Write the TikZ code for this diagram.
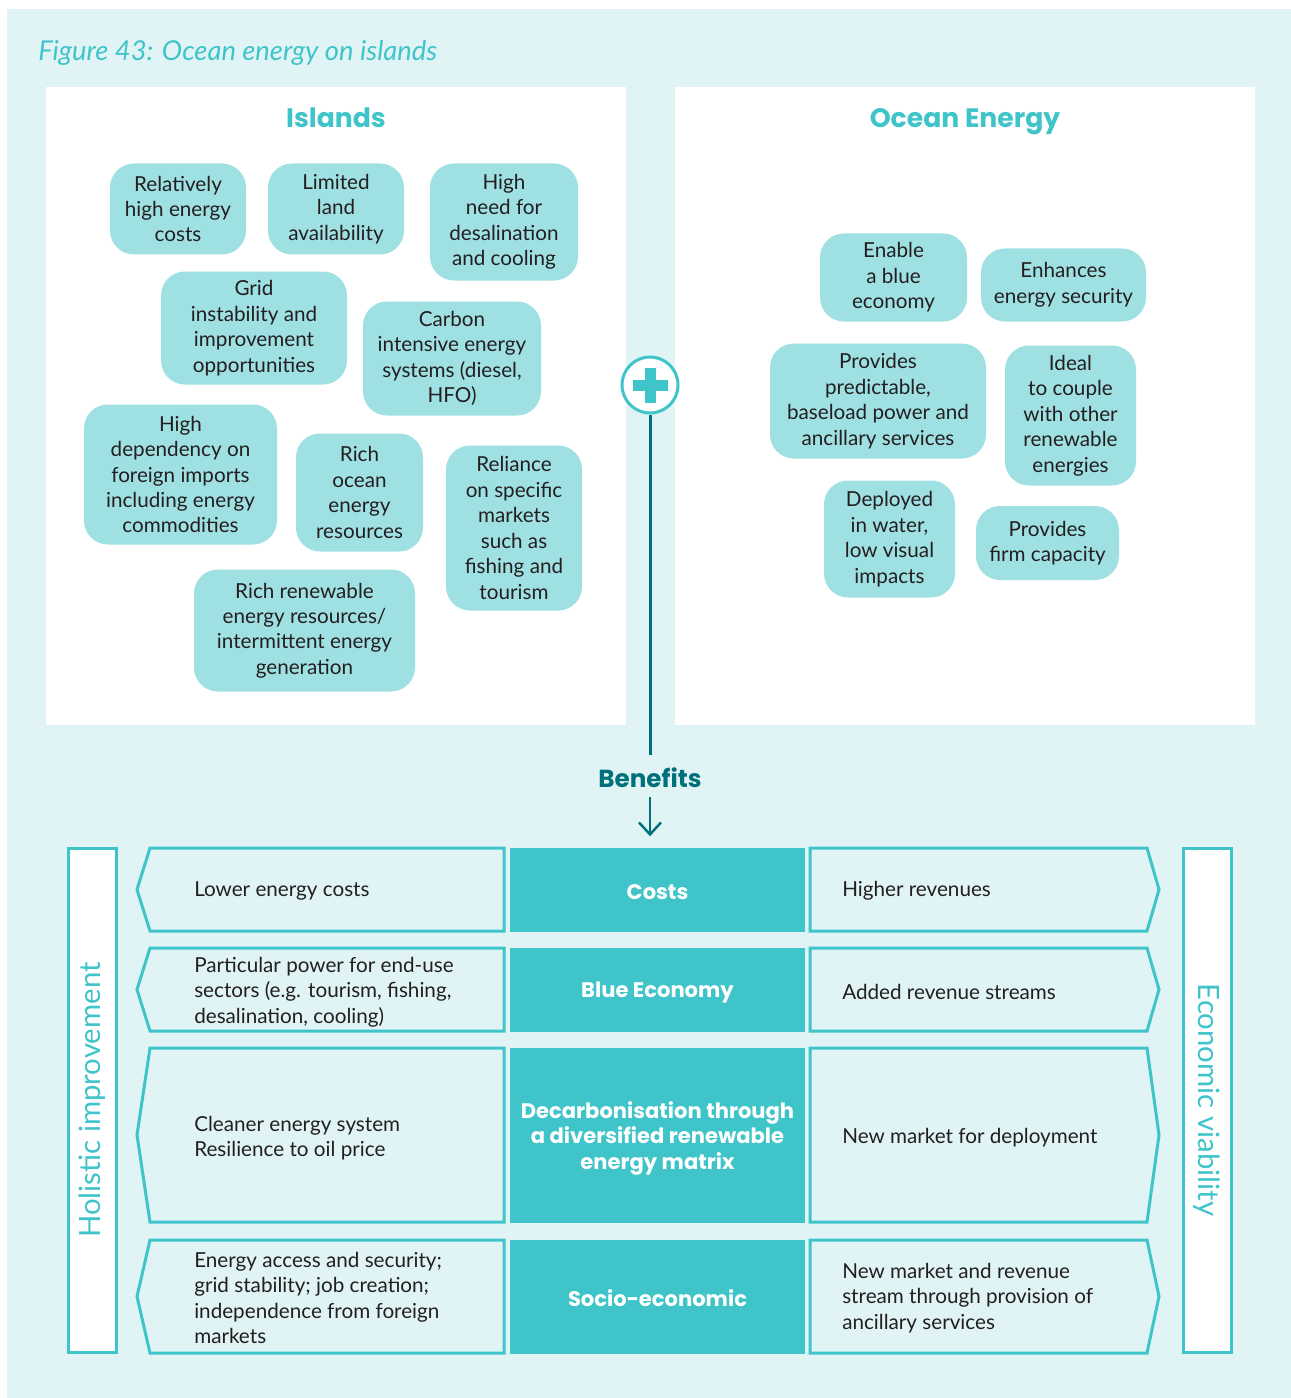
\documentclass[tikz,border=0pt]{standalone}
\usepackage{fontspec}
\setmainfont{Lato}
\newfontfamily\headfont{Poppins}
\usetikzlibrary{arrows.meta}
\definecolor{panelc}{HTML}{E0F4F6}
\definecolor{pillc}{HTML}{9FE1E3}
\definecolor{tealc}{HTML}{3FC4C9}
\definecolor{darkc}{HTML}{00707A}
\definecolor{inkc}{HTML}{231F20}
\newcommand{\bodyfont}{\fontsize{15.5}{19.1}\selectfont}
\tikzset{
  pillbox/.style 2 args={fill=pillc, rounded corners=18pt, minimum width=#1*0.75pt, minimum height=#2*0.75pt, align=center, inner sep=0pt, text=inkc, font=\bodyfont},
  heading/.style={anchor=base, inner sep=0pt, text=tealc, font=\headfont\bfseries\fontsize{20}{24}\selectfont},
  rowline/.style={draw=tealc, line width=2.25pt, fill=panelc, line join=miter},
  centerbox/.style={fill=tealc, minimum width=295*0.75pt, minimum height=#1*0.75pt, inner sep=0pt},
  centertext/.style={inner sep=0pt, align=center, text=white, font=\headfont\bfseries\fontsize{15.8}{19.1}\selectfont},
  rowtext/.style={anchor=west, align=left, inner sep=0pt, text=inkc, font=\bodyfont},
  sidebox/.style={draw=tealc, fill=white, line width=2.25pt},
  sidetext/.style={inner sep=0pt, text=tealc, font=\fontsize{22}{24}\selectfont},
}
\begin{document}
\begin{tikzpicture}[x=0.75pt,y=-0.75pt]
\useasboundingbox (0,0) rectangle (1291,1398);
\fill[white] (0,0) rectangle (1291,1398);
\fill[panelc] (7,9) rectangle (1291,1398);
\fill[white] (46,87) rectangle (626,725);
\fill[white] (675,87) rectangle (1255,725);

% title
\node[anchor=base west, inner sep=0pt, text=tealc, font=\itshape\fontsize{20.5}{22}\selectfont] (title) at (38,61) {Figure 43: Ocean energy on islands};

% headings
\node[heading] (islands) at (336,128) {Islands};
\node[heading] (ocean) at (965,128) {Ocean Energy};

% island pills
\node[pillbox={136}{91}] (i1) at (178,209) {Relatively\\high energy\\costs};
\node[pillbox={136}{91}] (i2) at (336,209) {Limited\\land\\availability};
\node[pillbox={148}{117}] (i3) at (504,222) {High\\need for\\desalination\\and cooling};
\node[pillbox={186}{113}] (i4) at (254,328) {Grid\\instability and\\improvement\\opportunities};
\node[pillbox={178}{114}] (i5) at (452,358.5) {Carbon\\intensive energy\\systems (diesel,\\HFO)};
\node[pillbox={193}{140}] (i6) at (180.5,474.5) {High\\dependency on\\foreign imports\\including energy\\commodities};
\node[pillbox={127}{118}] (i7) at (359.5,492.5) {Rich\\ocean\\energy\\resources};
\node[pillbox={136}{165}] (i8) at (514,528) {Reliance\\on specific\\markets\\such as\\fishing and\\tourism};
\node[pillbox={221}{122}] (i9) at (304.5,630.5) {Rich renewable\\energy resources/\\intermittent energy\\generation};

% ocean energy pills
\node[pillbox={147}{88}] (o1) at (893.5,277.5) {Enable\\a blue\\economy};
\node[pillbox={165}{73}] (o2) at (1063.5,285) {Enhances\\energy security};
\node[pillbox={216}{115}] (o3) at (878,401) {Provides\\predictable,\\baseload power and\\ancillary services};
\node[pillbox={131}{140}] (o4) at (1070.5,415.5) {Ideal\\to couple\\with other\\renewable\\energies};
\node[pillbox={131}{117}] (o5) at (889.5,539) {Deployed\\in water,\\low visual\\impacts};
\node[pillbox={143}{74}] (o6) at (1047.5,543) {Provides\\firm capacity};

% plus and benefits
\node[circle, draw=tealc, line width=2.25pt, fill=white, minimum size=56*0.75pt, inner sep=0pt] (plus) at (650,385) {};
\fill[tealc] (632.5,379.5) rectangle (667.5,390.5);
\fill[tealc] (644.5,367.5) rectangle (655.5,402.5);
\node[anchor=base, inner sep=0pt, text=darkc, font=\headfont\bfseries\fontsize{18.5}{20}\selectfont] (benefits) at (650,787) {Benefits};

% rows
\foreach \t/\b in {848/931, 948/1031, 1048/1222, 1240/1353}{
  \draw[rowline] (504,\t) -- (150,\t) -- (137,{(\t+\b)/2}) -- (150,\b) -- (504,\b) -- cycle;
  \draw[rowline] (810,\t) -- (1147,\t) -- (1159,{(\t+\b)/2}) -- (1147,\b) -- (810,\b) -- cycle;
}
\node[centerbox=84] (costs) at (657.5,889.5) {};
\node[centerbox=84] (blue) at (657.5,989.5) {};
\node[centerbox=175] (decarb) at (657.5,1135) {};
\node[centerbox=114] (socio) at (657.5,1296.5) {};
\node[centertext] (costst) at (657.5,892) {Costs};
\node[centertext] (bluet) at (657.5,992.5) {Blue Economy};
\node[centertext] (decarbt) at (657.5,1138) {Decarbonisation through\\a diversified renewable\\energy matrix};
\node[centertext] (sociot) at (657.5,1298.5) {Socio-economic};

\node[rowtext] (l1) at (194,891) {Lower energy costs};
\node[rowtext] (l2) at (194,992) {Particular power for end-use\\sectors (e.g. tourism, fishing,\\desalination, cooling)};
\node[rowtext] (l3) at (194,1138) {Cleaner energy system\\Resilience to oil price};
\node[rowtext] (l4) at (194,1298) {Energy access and security;\\grid stability; job creation;\\independence from foreign\\markets};
\node[rowtext] (r1) at (842,891) {Higher revenues};
\node[rowtext] (r2) at (842,992) {Added revenue streams};
\node[rowtext] (r3) at (842,1138) {New market for deployment};
\node[rowtext] (r4) at (842,1298) {New market and revenue\\stream through provision of\\ancillary services};

% side bars
\draw[sidebox] (68,848) rectangle (116,1352);
\draw[sidebox] (1183,848) rectangle (1231,1352);
\node[sidetext, rotate=90] (holistic) at (92,1100) {Holistic improvement};
\node[sidetext, rotate=-90] (econ) at (1207,1100) {Economic viability};

% connectors
\draw[darkc, line width=2.25pt, shorten >=9pt] (plus.south) -- (benefits.north);
\draw[darkc, line width=1.8pt, shorten <=7.5pt, shorten >=8.25pt, -{Straight Barb[length=9pt, width=16.5pt]}] (benefits.south) -- (benefits.south |- costs.north);
\end{tikzpicture}
\end{document}
